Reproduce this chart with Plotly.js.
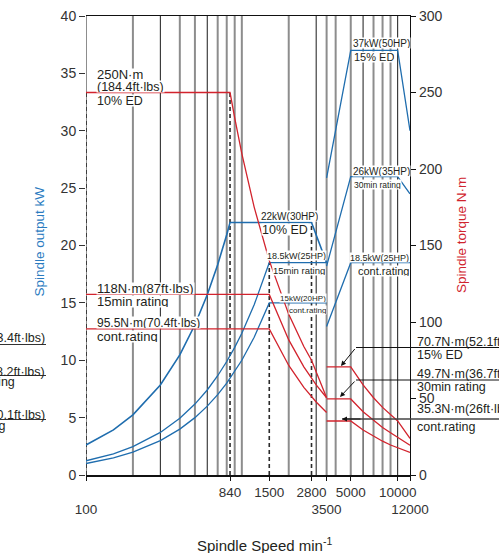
<!DOCTYPE html>
<html>
<head>
<meta charset="utf-8">
<script src="https://cdn.plot.ly/plotly-3.0.1.min.js"></script>
<style>html,body{margin:0;padding:0;background:#fff;}#chart{width:499px;height:553px;}</style>
</head>
<body>
<div id="chart"></div>
<script>
// ---------- data ----------
// x tick labels (spindle speed, min-1)
const xTickVals = [100, 840, 1500, 2800, 3500, 5000, 10000, 12000];
const xTickText = ['<br>100', '840', '1500', '2800', '<br>3500', '5000', '10000', '<br>12000'];

// vertical reference lines
const grayGrid = [200, 400, 500, 700, 800, 900, 1000, 2000, 3500, 4000, 5000, 7000, 8000, 9000];
const blackGrid = [300, 600, 3000, 6000, 10000];
const dashedX = [100, 840, 1500, 2800];
const dashedTopKw = [33.33, 33.33, 18.5, 22];

// ---- spindle output (kW), low-speed winding ----
const nPow10ED = [100, 150, 200, 300, 400, 500, 600, 700, 800, 840, 2800, 3500];
const kwPow10ED = [2.62, 3.93, 5.24, 7.85, 10.47, 13.09, 15.71, 18.33, 20.94, 22.0, 22.0, 18.5];
const nPowLow = [100, 150, 200, 300, 400, 500, 600, 700, 800, 900, 1000, 1200, 1500, 3500];
const kwPow15min = [1.24, 1.85, 2.47, 3.71, 4.94, 6.18, 7.41, 8.65, 9.89, 11.12, 12.36, 14.83, 18.5, 18.5];
const kwPowCont = [1.0, 1.5, 2.0, 3.0, 4.0, 5.0, 6.0, 7.0, 8.0, 9.0, 10.0, 12.0, 15.0, 15.0];

// ---- spindle output (kW), high-speed winding ----
const nPowHi = [3500, 5000, 10000, 12000];
const kwPowHi15ED = [25.9, 37.0, 37.0, 30.0];
const kwPowHi30min = [18.2, 26.0, 26.0, 24.5];
const nPowHiCont = [3500, 5000, 12000];
const kwPowHiCont = [12.95, 18.5, 18.5];

// ---- spindle torque (N·m), low-speed winding ----
const nTq10ED = [100, 840, 900, 1000, 1200, 1500, 2000, 2500, 2800, 3500];
const nmTq10ED = [250, 250, 233.4, 210.1, 175.1, 140.1, 105.0, 84.0, 75.0, 50.5];
const nTqLow = [100, 1500, 2000, 2500, 3000, 3500];
const nmTq15min = [118, 118, 88.3, 70.7, 58.9, 50.5];
const nmTqCont = [95.5, 95.5, 71.6, 57.3, 47.7, 40.9];

// ---- spindle torque (N·m), high-speed winding ----
const nTqHi = [3500, 5000, 6000, 7000, 8000, 9000, 10000, 12000];
const nmTqHi15ED = [70.7, 70.7, 58.9, 50.5, 44.2, 39.3, 35.3, 23.9];
const nmTqHi30min = [49.7, 49.7, 41.4, 35.5, 31.0, 27.6, 24.8, 19.5];
const nmTqHiCont = [35.3, 35.3, 29.4, 25.2, 22.1, 19.6, 17.7, 14.7];

// ---------- styling ----------
const BLUE = '#1f6dae';
const RED = '#d2232d';
const TXT = '#231f20';
const FONT = 'Liberation Sans, Arial, Helvetica, sans-serif';

function vsegs(xs, y0, y1s) {
  const x = [], y = [];
  xs.forEach((v, i) => { x.push(v, v, null); y.push(y0, Array.isArray(y1s) ? y1s[i] : y1s, null); });
  return {x, y};
}
const g1 = vsegs(grayGrid, 0, 40);
const g2 = vsegs(blackGrid, 0, 40);
const dsh = vsegs(dashedX, 0, dashedTopKw);

const traces = [
  {x: g1.x, y: g1.y, mode: 'lines', line: {color: '#8d8d8d', width: 2}, hoverinfo: 'skip'},
  {x: [100, 100], y: [0, 40], mode: 'lines', line: {color: '#8d8d8d', width: 2}, hoverinfo: 'skip'},
  {x: g2.x, y: g2.y, mode: 'lines', line: {color: '#1a1a1a', width: 1}, hoverinfo: 'skip'},
  {x: dsh.x, y: dsh.y, mode: 'lines', line: {color: '#2a2a2a', width: 1.6, dash: '4px,3px'}, hoverinfo: 'skip'},
  // torque (right axis)
  {x: nTq10ED, y: nmTq10ED, yaxis: 'y2', mode: 'lines', line: {color: RED, width: 1.3}},
  {x: nTqLow, y: nmTq15min, yaxis: 'y2', mode: 'lines', line: {color: RED, width: 1.3}},
  {x: nTqLow, y: nmTqCont, yaxis: 'y2', mode: 'lines', line: {color: RED, width: 1.3}},
  {x: nTqHi, y: nmTqHi15ED, yaxis: 'y2', mode: 'lines', line: {color: RED, width: 1.3}},
  {x: nTqHi, y: nmTqHi30min, yaxis: 'y2', mode: 'lines', line: {color: RED, width: 1.3}},
  {x: nTqHi, y: nmTqHiCont, yaxis: 'y2', mode: 'lines', line: {color: RED, width: 1.3}},
  // power (left axis)
  {x: nPow10ED, y: kwPow10ED, mode: 'lines', line: {color: BLUE, width: 1.6}},
  {x: nPowLow, y: kwPow15min, mode: 'lines', line: {color: BLUE, width: 1.3}},
  {x: nPowLow, y: kwPowCont, mode: 'lines', line: {color: BLUE, width: 1.3}},
  {x: nPowHi, y: kwPowHi15ED, mode: 'lines', line: {color: BLUE, width: 1.3}},
  {x: nPowHi, y: kwPowHi30min, mode: 'lines', line: {color: BLUE, width: 1.3}},
  {x: nPowHiCont, y: kwPowHiCont, mode: 'lines', line: {color: BLUE, width: 1.3}}
];

// pixel -> paper helpers (plot area: x 86..410, y 16..475)
const L = 86, R = 410, T = 16, B = 475;
const px = v => (v - L) / (R - L);
const py = v => (B - v) / (B - T);

function lab(text, x, y, size, opt) {
  opt = opt || {};
  const a = {
    xref: 'paper', yref: 'paper', x: px(x), y: py(y),
    xanchor: opt.anchor || 'left', yanchor: 'middle',
    text: text, showarrow: false, borderpad: 0,
    font: {size: size, family: FONT, color: opt.color || TXT},
    bgcolor: opt.bg ? 'rgba(255,255,255,1)' : 'rgba(0,0,0,0)'
  };
  if (opt.h) a.height = opt.h;
  return Object.assign(a, opt.extra || {});
}

const annotations = [
  lab('250N·m', 96, 74, 13, {bg: 1, h: 11}),
  lab('(184.4ft·lbs)', 96, 86, 12.5, {bg: 1, h: 11}),
  lab('10% ED', 96, 100.5, 12.5, {bg: 1, h: 11}),
  lab('118N·m(87ft·lbs)', 96, 288, 13, {bg: 1, h: 11}),
  lab('15min rating', 96, 302, 13, {bg: 1, h: 11}),
  lab('95.5N·m(70.4ft·lbs)', 96, 322.5, 12, {bg: 1, h: 11}),
  lab('cont.rating', 96, 336, 13, {bg: 1, h: 11}),
  lab('22kW(30HP)', 260, 216, 10, {bg: 1, h: 10}),
  lab('10% ED', 261, 229.5, 12.5, {bg: 1, h: 11}),
  lab('18.5kW(25HP)', 327, 255, 9, {anchor: 'right', bg: 1, h: 9}),
  lab('15min rating', 326, 270, 9.5, {anchor: 'right', bg: 1, h: 9}),
  lab('15kW(20HP)', 327, 297.5, 8, {anchor: 'right', bg: 1, h: 8}),
  lab('cont.rating', 327, 310, 8, {anchor: 'right', bg: 1, h: 8}),
  lab('18.5kW(25HP)', 409.5, 257, 9, {anchor: 'right', bg: 1, h: 9}),
  lab('cont.rating', 409.5, 270.5, 11, {anchor: 'right', bg: 1, h: 10}),
  lab('37kW(50HP)', 351.5, 43.5, 10, {bg: 1, h: 10}),
  lab('15% ED', 352.5, 57, 11, {bg: 1, h: 10}),
  lab('26kW(35HP)', 351.5, 170.5, 10, {bg: 1, h: 10}),
  lab('30min rating', 352.5, 184, 8.5, {bg: 1, h: 9}),
  // right side torque labels
  lab('70.7N·m(52.1ft·lbs)', 416, 342, 12.5),
  lab('15% ED', 416, 354.5, 12.5),
  lab('49.7N·m(36.7ft·lbs)', 416, 373.5, 12.5),
  lab('30min rating', 416, 386.5, 12.5),
  lab('35.3N·m(26ft·lbs)', 416, 408.5, 12.5),
  lab('cont.rating', 416, 427, 12.5),
  // left side (cut off) labels
  lab('167N·m(123.4ft·lbs)', 46, 338, 12.5, {anchor: 'right'}),
  lab('119.6N·m(88.2ft·lbs)', 46, 371.5, 12.5, {anchor: 'right'}),
  lab('30min rating', 15.5, 382, 12.5, {anchor: 'right'}),
  lab('95N·m(70.1ft·lbs)', 46, 415, 12.5, {anchor: 'right'}),
  lab('cont.rating', 5.5, 426, 12.5, {anchor: 'right'}),
  // axis titles
  lab('Spindle output kW', 38.5, 241, 13.5, {anchor: 'center', color: '#2a7bbf', extra: {textangle: -90}}),
  lab('Spindle torque N·m', 461, 235, 13.5, {anchor: 'center', color: '#d0232d', extra: {textangle: -90}}),
  lab('Spindle Speed min<sup>-1</sup>', 264, 544, 15, {anchor: 'center'}),
  // arrows to torque levels
  {xref: 'paper', yref: 'paper', x: px(341), y: py(366), ax: 15, ay: -18.5, text: '', showarrow: true,
   arrowhead: 2, arrowsize: 1, arrowwidth: 1, arrowcolor: '#111', standoff: 0},
  {xref: 'paper', yref: 'paper', x: px(340), y: py(397), ax: 16, ay: -17, text: '', showarrow: true,
   arrowhead: 2, arrowsize: 1, arrowwidth: 1, arrowcolor: '#111', standoff: 0},
  {xref: 'paper', yref: 'paper', x: px(342), y: py(419), ax: 20, ay: 0, text: '', showarrow: true,
   arrowhead: 2, arrowsize: 1, arrowwidth: 1, arrowcolor: '#111', standoff: 0}
];

function hline(x0, x1, y, color, w) {
  return {type: 'line', xref: 'paper', yref: 'paper', x0: px(x0), x1: px(x1), y0: py(y), y1: py(y),
          line: {color: color || '#111', width: w || 1}};
}
const shapes = [
  hline(356, 505, 347.5),
  hline(356, 505, 380),
  hline(342, 505, 419, '#444', 1.3),
  hline(-5, 46, 344.5, '#333', 1),
  hline(-5, 46, 375.5, '#333', 1),
  hline(-5, 46, 419.5, '#333', 1)
];

const layout = {
  width: 499, height: 553,
  margin: {l: 86, r: 89, t: 16, b: 78, pad: 0},
  paper_bgcolor: '#fff', plot_bgcolor: '#fff',
  showlegend: false,
  font: {family: FONT, color: TXT, size: 13},
  xaxis: {
    type: 'log', range: [2, Math.log10(12000)],
    tickmode: 'array', tickvals: xTickVals, ticktext: xTickText, tickangle: 0,
    ticks: 'outside', ticklen: 4, tickcolor: '#111', tickfont: {size: 13.5, color: '#333'},
    showgrid: false, zeroline: false, showline: true, linecolor: '#111', linewidth: 1.5, mirror: true
  },
  yaxis: {
    range: [0, 40], tickmode: 'linear', tick0: 0, dtick: 5,
    ticks: 'outside', ticklen: 6, tickcolor: '#333', tickfont: {size: 14, color: '#333'},
    showgrid: false, zeroline: false, showline: false
  },
  yaxis2: {
    range: [0, 300], tickmode: 'linear', tick0: 0, dtick: 50,
    overlaying: 'y', side: 'right',
    ticks: 'outside', ticklen: 5, tickcolor: '#111', tickfont: {size: 14, color: '#333'},
    showgrid: false, zeroline: false, showline: true, linecolor: '#111', linewidth: 1.2
  },
  annotations: annotations,
  shapes: shapes
};

Plotly.newPlot('chart', traces, layout, {staticPlot: true, displayModeBar: false});
</script>
</body>
</html>
